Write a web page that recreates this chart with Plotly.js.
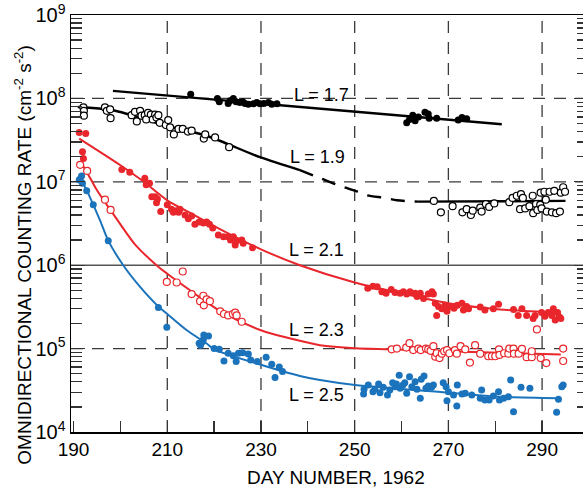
<!DOCTYPE html>
<html>
<head>
<meta charset="utf-8">
<script src="https://cdn.plot.ly/plotly-3.0.1.min.js"></script>
<style>
html,body{margin:0;padding:0;overflow:hidden;background:#fff;}
#chart{width:590px;height:488px;}
</style>
</head>
<body>
<div id="chart"></div>
<script>
// ---------- data ----------
// L = 1.7 (filled black)
const l17Days = [215.0,220.7,221.1,223.0,223.4,224.1,224.7,225.5,226.1,226.6,227.3,228.4,229.1,229.8,230.6,231.6,232.3,233.4,
  261.1,261.7,262.4,262.9,263.6,265.0,265.7,265.9,267.5,272.1,272.9,273.9];
const l17Vals = [1.12e8,1.0e8,9.1e7,8.7e7,9.4e7,1.0e8,9.1e7,8.9e7,9.1e7,8.7e7,8.5e7,8.6e7,8.9e7,8.6e7,8.7e7,8.9e7,8.5e7,8.6e7,
  5.1e7,5.6e7,6.3e7,5.4e7,6.0e7,6.8e7,6.5e7,5.8e7,5.8e7,5.5e7,5.9e7,5.7e7];
const l17FitDays = [198.4,281.4];
const l17FitVals = [1.23e8,4.9e7];

// L = 1.9 (open black)
const l19Days = [192.1,192.2,192.2,196.7,197.1,197.8,197.9,202.4,203.1,203.5,204.2,204.5,205.2,205.5,205.9,206.5,206.9,207.4,207.7,208.1,
  208.4,209.7,210.2,210.6,211.4,212.4,213.3,214.4,215.2,217.8,218.1,220.2,223.2,
  266.9,268.4,270.9,273.0,273.9,274.8,275.2,276.8,277.1,278.0,278.7,279.8,283.0,283.7,284.6,285.5,285.9,285.3,286.4,287.3,288.0,288.1,
  288.7,289.0,289.6,289.7,289.9,290.5,290.8,291.0,291.6,292.1,292.6,293.0,293.8,294.0,294.5,294.9];
const l19Vals = [7.8e7,7.1e7,6.2e7,7.8e7,7.1e7,7.4e7,5.8e7,6.3e7,6.9e7,5.3e7,7.1e7,6.2e7,6.3e7,5.6e7,6.7e7,6.4e7,5.6e7,6.4e7,5.9e7,6.3e7,
  5.1e7,4.8e7,5.5e7,4.5e7,3.7e7,4.3e7,4.3e7,4.0e7,4.1e7,3.3e7,3.7e7,3.4e7,2.6e7,
  5.9e6,4.3e6,5.1e6,4.3e6,4.7e6,4.0e6,4.5e6,4.9e6,4.4e6,5.4e6,5.0e6,5.5e6,5.7e6,6.4e6,6.8e6,7.1e6,6.4e6,4.7e6,4.8e6,5.1e6,6.8e6,4.2e6,
  5.4e6,4.6e6,5.3e6,7.4e6,4.8e6,7.6e6,6.1e6,4.4e6,7.6e6,4.3e6,7.8e6,4.2e6,4.4e6,7.4e6,8.6e6,7.6e6];
const l19FitDays1 = [190.9,198.4,209.9,218.5,229.8,238.3];
const l19FitVals1 = [7.9e7,7.2e7,4.67e7,3.54e7,1.97e7,1.38e7];
const l19FitDays2 = [238.3,242.6,246.5,250.7,252.6,256.5,259.0,263.5];
const l19FitVals2 = [1.38e7,1.11e7,9.1e6,7.6e6,6.9e6,6.4e6,6.0e6,5.78e6];
const l19FitDays3 = [263.5,295.0];
const l19FitVals3 = [5.78e6,5.9e6];

// L = 2.1 (filled red)
const l21Days = [191.2,192.6,191.9,192.1,200.3,202.0,205.2,206.2,205.5,206.7,207.4,207.9,207.7,208.6,210.0,210.9,211.3,211.9,212.4,212.7,
  213.8,214.5,215.2,215.9,216.8,217.7,218.4,219.0,219.7,220.9,222.0,223.0,223.5,224.1,224.5,224.8,225.9,226.2,228.2,
  252.8,253.9,254.8,255.8,256.7,257.8,258.6,259.7,260.4,261.1,261.8,262.9,263.3,264.0,264.7,265.7,266.5,266.8,267.2,267.5,
  267.9,268.6,269.3,269.7,270.4,271.2,271.9,272.9,273.2,273.9,274.3,276.8,277.8,279.6,280.7,283.9,284.9,285.7,286.7,288.1,
  288.5,289.9,290.6,291.3,292.1,292.4,292.8,293.3,293.7,294.0];
const l21Vals = [3.9e7,3.8e7,2.3e7,1.9e7,1.4e7,1.3e7,1.1e7,9.6e6,9.2e6,6.6e6,6.6e6,6.2e6,5.6e6,4.4e6,5.3e6,4.7e6,4.3e6,4.5e6,4.3e6,4.7e6,
  4.0e6,3.6e6,3.9e6,3.1e6,3.3e6,3.2e6,3.3e6,3.1e6,2.8e6,2.3e6,2.2e6,2.2e6,2.0e6,2.2e6,1.75e6,1.97e6,2.0e6,1.83e6,1.62e6,
  5.3e5,5.6e5,5.5e5,4.8e5,4.6e5,5.1e5,4.7e5,4.6e5,4.8e5,4.5e5,4.8e5,4.6e5,4.2e5,4.6e5,4.0e5,4.5e5,4.8e5,4.5e5,3.5e5,2.5e5,
  3.2e5,3.0e5,3.3e5,2.8e5,3.2e5,3.05e5,3.3e5,3.5e5,2.9e5,3.2e5,3.0e5,3.15e5,2.9e5,3.0e5,3.4e5,2.95e5,2.5e5,3.0e5,2.5e5,2.3e5,
  2.5e5,2.7e5,2.45e5,2.7e5,2.5e5,3.0e5,2.2e5,2.7e5,2.4e5,2.3e5];
const l21FitDays = [191.2,200.0,205.0,210.0,215.0,220.0,230.0,238.3,250.0,260.0,270.0,281.0,294.0];
const l21FitVals = [3.3e7,1.58e7,1.0e7,6.0e6,4.2e6,2.95e6,1.55e6,1.0e6,6.2e5,4.6e5,3.5e5,2.95e5,2.7e5];

// L = 2.3 (open red)
const l23Days = [191.4,192.9,196.7,197.9,209.9,212.0,213.3,215.2,217.0,217.7,217.8,218.4,219.1,221.3,222.1,223.0,224.0,224.5,224.8,225.9,
  257.9,259.0,261.0,261.7,262.5,263.6,264.1,265.2,265.7,266.2,266.8,267.2,267.5,268.1,268.6,269.1,269.7,270.2,271.4,271.8,
  272.6,273.6,274.6,275.7,276.8,278.5,279.3,280.0,280.8,280.9,281.9,282.8,283.0,283.9,284.0,285.0,285.7,286.7,287.8,287.8,
  288.9,289.7,290.9,294.5,294.5];
const l23Vals = [1.6e7,1.35e7,6.1e6,4.6e6,6.3e5,6.2e5,8.4e5,4.5e5,3.7e5,4.3e5,3.3e5,3.9e5,3.7e5,2.8e5,2.6e5,2.5e5,2.6e5,2.7e5,2.5e5,2.1e5,
  9.8e4,1.0e5,1.03e5,1.16e5,9.6e4,1.0e5,9.6e4,1.0e5,9.8e4,9.4e4,1.07e5,8.0e4,8.8e4,7.7e4,8.7e4,9.3e4,9.6e4,8.8e4,9.6e4,8.7e4,
  1.07e5,9.8e4,6.8e4,1.1e5,8.7e4,8.1e4,8.1e4,8.1e4,9.8e4,8.4e4,8.8e4,8.7e4,1.0e5,1.0e5,8.7e4,8.7e4,9.9e4,7.9e4,7.9e4,9.3e4,
  1.7e5,7.7e4,6.7e4,1.0e5,7.1e4];
const l23FitDays = [191.4,193.0,195.0,197.9,200.0,203.1,207.7,210.0,215.6,221.3,230.0,238.3,242.6,250.1,257.5,275.0,294.0];
const l23FitVals = [1.78e7,1.26e7,7.9e6,4.57e6,3.09e6,1.78e6,1.0e6,7.9e5,4.68e5,2.82e5,1.66e5,1.24e5,1.1e5,1.01e5,9.8e4,9.1e4,8.5e4];

// L = 2.5 (filled blue)
const l25Days = [191.2,191.4,191.7,191.9,192.8,194.2,197.4,208.1,209.9,216.8,217.1,217.7,217.8,218.8,217.5,220.0,221.1,222.1,223.0,224.1,
  224.7,225.2,226.1,227.3,227.8,229.2,231.1,232.3,233.0,233.9,234.6,
  251.9,252.0,252.9,253.9,254.3,255.1,255.4,256.1,257.0,257.5,258.1,258.6,258.9,259.5,259.7,260.3,260.7,261.1,261.7,262.2,
  262.9,263.3,264.0,264.2,264.8,265.2,265.7,266.4,266.8,268.9,269.5,269.7,270.0,271.1,271.8,271.9,272.9,273.6,275.0,276.8,
  277.1,277.8,278.7,279.6,280.7,280.9,281.8,282.8,283.3,283.9,285.5,287.4,293.1,293.5,294.2,294.5];
const l25Vals = [1.05e7,1.08e7,1.17e7,9.6e6,7.8e6,5.3e6,1.97e6,3.1e5,1.8e5,1.16e5,1.1e5,1.29e5,1.46e5,1.42e5,1.21e5,1.0e5,9.8e4,7.1e4,8.8e4,8.2e4,
  7.0e4,8.8e4,8.9e4,8.6e4,7.3e4,7.0e4,7.9e4,6.5e4,4.5e4,6.0e4,5.3e4,
  2.86e4,3.25e4,3.66e4,3.04e4,3.25e4,3.77e4,2.96e4,3.44e4,2.78e4,3.19e4,3.9e4,3.49e4,3.77e4,4.8e4,3.34e4,3.66e4,3.9e4,2.91e4,4.6e4,3.49e4,
  4.0e4,3.25e4,2.54e4,4.3e4,4.7e4,3.34e4,3.56e4,3.44e4,3.66e4,3.9e4,3.49e4,2.37e4,3.04e4,2.78e4,2.05e4,3.66e4,2.86e4,2.91e4,2.78e4,2.54e4,
  3.19e4,2.42e4,2.42e4,2.7e4,3.04e4,2.42e4,2.54e4,2.65e4,4.2e4,1.75e4,3.44e4,3.34e4,1.72e4,2.47e4,3.49e4,3.66e4];
const l25FitDays = [191.2,192.8,195.6,197.4,200.6,204.2,208.1,210.0,214.1,218.4,220.0,230.0,238.3,242.6,250.1,270.1,281.0,293.5];
const l25FitVals = [1.15e7,7.9e6,3.5e6,1.97e6,1.0e6,5.5e5,3.2e5,2.6e5,1.67e5,1.15e5,9.8e4,6.4e4,4.7e4,4.2e4,3.66e4,2.96e4,2.65e4,2.54e4];

// labels and axes
const curveLabels = ["L = 1.7","L = 1.9","L = 2.1","L = 2.3","L = 2.5"];
const labelDays = [236.6,235.8,235.5,235.5,235.5];
const labelVals = [1.1e8,1.98e7,1.52e6,1.67e5,2.78e4];
const dayTicks = [190,210,230,250,270,290];
const dayGrid = [210,230,250,270,290];
const decadeVals = [1e4,1e5,1e6,1e7,1e8,1e9];
const decadeText = ["10<sup>4</sup>","10<sup>5</sup>","10<sup>6</sup>","10<sup>7</sup>","10<sup>8</sup>","10<sup>9</sup>"];
const dashedRates = [1e5,1e7,1e8];
const solidRates = [1e6];
const xTitle = "DAY NUMBER, 1962";
const yTitle = "OMNIDIRECTIONAL COUNTING RATE (cm<sup>-2</sup> s<sup>-2</sup>)";

// ---------- styles ----------
const RED = "#e8262b", BLUE = "#1b73bc", BLACK = "#000000";
const FONT = "Liberation Sans, Arial, sans-serif";

const minorY = [];
for (let e = 4; e < 9; e++) for (let m = 2; m <= 9; m++) minorY.push(m * Math.pow(10, e));

function line(x, y, color, width, dash) {
  return {x, y, type: "scatter", mode: "lines", line: {color, width, dash: dash || "solid", shape: "spline", smoothing: 0.8}, hoverinfo: "skip"};
}
function pts(x, y, color, open) {
  return {x, y, type: "scatter", mode: "markers", hoverinfo: "skip", cliponaxis: false,
    marker: open ? {symbol: "circle", size: 7, color: "#fff", line: {color, width: 1.2}}
                 : {symbol: "circle", size: 7, color, line: {width: 0}}};
}

const traces = [
  line(l17FitDays, l17FitVals, BLACK, 2.4),
  line(l19FitDays1, l19FitVals1, BLACK, 2.4),
  line(l19FitDays2, l19FitVals2, BLACK, 2.4, "14px,10px"),
  line(l19FitDays3, l19FitVals3, BLACK, 2.4),
  line(l21FitDays, l21FitVals, RED, 2),
  line(l23FitDays, l23FitVals, RED, 2),
  line(l25FitDays, l25FitVals, BLUE, 2),
  pts(l17Days, l17Vals, BLACK, false),
  pts(l19Days, l19Vals, BLACK, true),
  pts(l21Days, l21Vals, RED, false),
  pts(l23Days, l23Vals, RED, true),
  pts(l25Days, l25Vals, BLUE, false)
];

const shapes = [];
dayGrid.forEach(d => shapes.push({type: "line", layer: "below", xref: "x", yref: "paper", x0: d, x1: d, y0: 0, y1: 1,
  line: {color: "#3a3a3a", width: 1.3, dash: "12px,9px"}}));
dashedRates.forEach(v => shapes.push({type: "line", layer: "below", xref: "paper", yref: "y", x0: 0, x1: 1, y0: v, y1: v,
  line: {color: "#3a3a3a", width: 1.3, dash: "12px,9px"}}));
solidRates.forEach(v => shapes.push({type: "line", layer: "below", xref: "paper", yref: "y", x0: 0, x1: 1, y0: v, y1: v,
  line: {color: "#555", width: 1.5}}));

const annotations = curveLabels.map((t, i) => ({text: t, x: labelDays[i], y: Math.log10(labelVals[i]), xref: "x", yref: "y",
  xanchor: "left", yanchor: "middle", showarrow: false, font: {family: FONT, size: 18, color: "#000"}}));
annotations.push({text: yTitle, textangle: -90, xref: "paper", yref: "paper", x: -0.093, y: 0.425,
  xanchor: "center", yanchor: "middle", showarrow: false, font: {family: FONT, size: 19, color: "#000"}});
annotations.push({text: xTitle, xref: "paper", yref: "paper", x: 0.5126, y: -0.108,
  xanchor: "center", yanchor: "middle", showarrow: false, font: {family: FONT, size: 19, color: "#000"}});

const layout = {
  width: 590, height: 488,
  margin: {l: 71, r: 2, t: 15, b: 56},
  paper_bgcolor: "#fff", plot_bgcolor: "#fff",
  showlegend: false,
  font: {family: FONT, size: 18, color: "#000"},
  xaxis: {
    range: [189.45, 299.8], showgrid: false, zeroline: false,
    showline: true, linecolor: "#000", linewidth: 1.5, mirror: true,
    tickmode: "array", tickvals: dayTicks, ticktext: dayTicks.map(String),
    ticks: "inside", ticklen: 11, tickwidth: 1.3, tickcolor: "#333",
    tickfont: {family: FONT, size: 19, color: "#000"},
    minor: {dtick: 10, tick0: 190, ticks: "inside", ticklen: 11, tickwidth: 1.3, tickcolor: "#333", showgrid: false}
  },
  yaxis: {
    type: "log", range: [4, 9], showgrid: false, zeroline: false,
    showline: true, linecolor: "#000", linewidth: 1.5, mirror: "ticks",
    tickmode: "array", tickvals: decadeVals, ticktext: decadeText,
    ticks: "inside", ticklen: 14, tickwidth: 1.3, tickcolor: "#333",
    tickfont: {family: FONT, size: 20, color: "#000"},
    minor: {tickmode: "array", tickvals: minorY, ticks: "inside", ticklen: 11, tickwidth: 1.3, tickcolor: "#333", showgrid: false}
  },
  shapes, annotations
};

Plotly.newPlot("chart", traces, layout, {staticPlot: true, displayModeBar: false});
</script>
</body>
</html>
